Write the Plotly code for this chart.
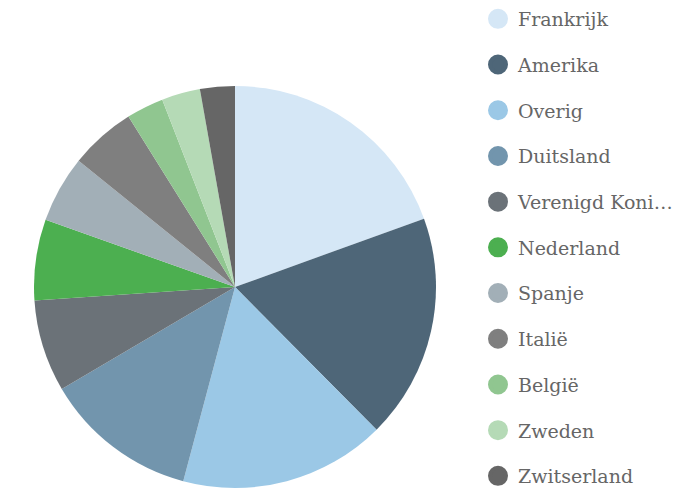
import plotly.graph_objects as go

labels = ["Frankrijk", "Amerika", "Overig", "Duitsland", "Verenigd Koninkrijk",
          "Nederland", "Spanje", "Italië", "België", "Zweden", "Zwitserland"]
legend_names = ["Frankrijk", "Amerika", "Overig", "Duitsland", "Verenigd Koni…",
                "Nederland", "Spanje", "Italië", "België", "Zweden", "Zwitserland"]
values = [19.5, 18.1, 16.6, 12.4, 7.4, 6.5, 5.4, 5.3, 3.0, 3.1, 2.8]
colors = ["#d5e7f6", "#4e6678", "#9bc8e6", "#7295ad", "#6b7278", "#4caf50",
          "#a2afb7", "#7f7f7f", "#90c690", "#b5dab6", "#666666"]

W, H = 695, 488
fig = go.Figure()
fig.add_trace(go.Pie(
    labels=labels, values=values, sort=False, direction="clockwise", rotation=0,
    marker=dict(colors=colors, line=dict(width=0)),
    textinfo="none", hoverinfo="label+percent", showlegend=False,
    domain=dict(x=[33 / W, 437 / W], y=[0, 1 - 86 / H]),
))
for i, (n, c) in enumerate(zip(legend_names, colors)):
    fig.add_trace(go.Scatter(
        x=[None], y=[None], mode="markers", name=n, legendgroup=f"g{i}",
        marker=dict(symbol="circle", size=16, color=c, line=dict(color=c, width=4)),
    ))

fig.update_layout(
    width=W, height=H, margin=dict(l=0, r=0, t=0, b=0),
    paper_bgcolor="white", plot_bgcolor="white",
    xaxis=dict(visible=False), yaxis=dict(visible=False),
    legend=dict(x=478 / W, xanchor="left", y=1 - 4 / H, yanchor="top",
                font=dict(family="DejaVu Serif", size=19, color="#666666"),
                tracegroupgap=18, itemsizing="trace", bgcolor="rgba(0,0,0,0)",
                maxheight=700),
)
fig.write_html("out.html", post_script="document.body.style.margin='0';",
               config={"displayModeBar": False})
